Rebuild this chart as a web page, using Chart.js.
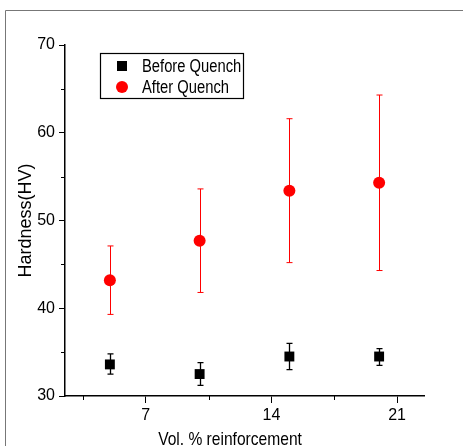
<!DOCTYPE html>
<html lang="en">
<head>
  <meta charset="UTF-8" />
  <title>Hardness vs reinforcement</title>
  <script src="https://cdn.jsdelivr.net/npm/chart.js"></script>
  <style>
    body { margin: 0; background: #fff; }
    .container { width: 463px; height: 446px; position: relative; }
  </style>
</head>
<body>
  <div class="container">
    <canvas id="chart"></canvas>
  </div>

  <script>
    // values
    const volPct = [5, 10, 15, 20];
    const beforeQuench = [33.6, 32.5, 34.5, 34.5];
    const beforeErrHi = [34.8, 33.8, 36.0, 35.4];
    const beforeErrLo = [32.5, 31.2, 33.0, 33.5];
    const afterQuench = [43.2, 47.7, 53.4, 54.3];
    const afterErrHi = [47.1, 53.6, 61.6, 64.3];
    const afterErrLo = [39.3, 41.8, 45.2, 44.3];

    const xTicks = [7, 14, 21];
    const xMinorTicks = [3.5, 10.5, 17.5];
    const yTicks = [30, 40, 50, 60, 70];
    const yMinorTicks = [35, 45, 55, 65];

    const FONT = "'Liberation Sans', Arial, sans-serif";
    const SQUEEZE = 0.82; // the original text is horizontally condensed

    const toPoints = ys => volPct.map((x, i) => ({ x, y: ys[i] }));

    // condensed text helper
    function narrowText(ctx, text, x, y, size, align) {
      ctx.save();
      ctx.font = size + 'px ' + FONT;
      ctx.textAlign = align;
      ctx.translate(x, y);
      ctx.scale(SQUEEZE, 1);
      ctx.fillText(text, 0, 0);
      ctx.restore();
    }

    // outer frame like the figure border
    const framePlugin = {
      id: 'frame',
      beforeDraw(chart) {
        const ctx = chart.ctx;
        ctx.save();
        ctx.strokeStyle = '#777';
        ctx.lineWidth = 1;
        ctx.beginPath();
        ctx.moveTo(5.5, chart.height);
        ctx.lineTo(5.5, 10.5);
        ctx.lineTo(chart.width, 10.5);
        ctx.stroke();
        ctx.restore();
      }
    };

    // vertical error bars, drawn under the markers
    const errorBarPlugin = {
      id: 'errorBars',
      beforeDatasetsDraw(chart) {
        const ctx = chart.ctx;
        const xs = chart.scales.x, ys = chart.scales.y;
        chart.data.datasets.forEach(ds => {
          ctx.save();
          ctx.strokeStyle = ds.errColor;
          ctx.lineWidth = ds.errWidth;
          volPct.forEach((v, i) => {
            const px = Math.round(xs.getPixelForValue(v)) + 0.5;
            const top = ys.getPixelForValue(ds.errHi[i]);
            const bot = ys.getPixelForValue(ds.errLo[i]);
            ctx.beginPath();
            ctx.moveTo(px, top); ctx.lineTo(px, bot);
            ctx.moveTo(px - 3, top); ctx.lineTo(px + 3, top);
            ctx.moveTo(px - 3, bot); ctx.lineTo(px + 3, bot);
            ctx.stroke();
          });
          ctx.restore();
        });
      }
    };

    // short minor ticks + boxed legend + x title
    const extrasPlugin = {
      id: 'extras',
      afterDraw(chart) {
        const ctx = chart.ctx;
        const xs = chart.scales.x, ys = chart.scales.y;
        const area = chart.chartArea;
        ctx.save();
        ctx.strokeStyle = '#000';
        ctx.lineWidth = 1;
        ctx.beginPath();
        xMinorTicks.forEach(v => {
          const px = Math.round(xs.getPixelForValue(v)) + 0.5;
          ctx.moveTo(px, area.bottom); ctx.lineTo(px, area.bottom + 4);
        });
        yMinorTicks.forEach(v => {
          const py = Math.round(ys.getPixelForValue(v)) + 0.5;
          ctx.moveTo(area.left, py); ctx.lineTo(area.left - 4, py);
        });
        ctx.stroke();

        // legend box
        ctx.lineWidth = 1.2;
        ctx.strokeRect(100.5, 53.5, 143, 45);
        const rows = [66, 87];
        chart.data.datasets.forEach((ds, i) => {
          const y = rows[i];
          ctx.fillStyle = ds.backgroundColor;
          if (ds.pointStyle === 'rect') {
            ctx.fillRect(117, y - 5, 10, 10);
          } else {
            ctx.beginPath();
            ctx.arc(122, y, 6, 0, Math.PI * 2);
            ctx.fill();
          }
          ctx.fillStyle = '#000';
          ctx.textBaseline = 'middle';
          narrowText(ctx, ds.label, 142, y + 1, 18, 'left');
        });

        // x axis title
        ctx.fillStyle = '#000';
        ctx.textBaseline = 'alphabetic';
        narrowText(ctx, 'Vol. % reinforcement', 230, 445, 19, 'center');
        ctx.restore();
      }
    };

    const ctx = document.getElementById('chart').getContext('2d');
    new Chart(ctx, {
      type: 'scatter',
      data: {
        datasets: [
          {
            label: 'Before Quench',
            data: toPoints(beforeQuench),
            errHi: beforeErrHi,
            errLo: beforeErrLo,
            errColor: '#000',
            errWidth: 1.3,
            pointStyle: 'rect',
            pointRadius: 7,
            backgroundColor: '#000',
            borderColor: '#000',
            borderWidth: 0
          },
          {
            label: 'After Quench',
            data: toPoints(afterQuench),
            errHi: afterErrHi,
            errLo: afterErrLo,
            errColor: '#ff0000',
            errWidth: 1,
            pointStyle: 'circle',
            pointRadius: 6,
            backgroundColor: '#ff0000',
            borderColor: '#ff0000',
            borderWidth: 0
          }
        ]
      },
      options: {
        responsive: true,
        maintainAspectRatio: false,
        animation: false,
        layout: { padding: { top: 45, right: 39, bottom: 0, left: 0 } },
        plugins: {
          legend: { display: false },
          tooltip: { enabled: false }
        },
        scales: {
          x: {
            type: 'linear',
            min: 2.5,
            max: 22.5,
            afterBuildTicks: s => { s.ticks = xTicks.map(v => ({ value: v })); },
            afterFit: s => { s.height = 50; },
            grid: { drawOnChartArea: false, tickLength: 7, color: '#000', tickWidth: 1 },
            border: { color: '#000', width: 1.5 },
            ticks: { color: '#000', padding: 3, font: { family: FONT, size: 16 } },
            title: { display: false }
          },
          y: {
            min: 30,
            max: 70,
            afterBuildTicks: s => { s.ticks = yTicks.map(v => ({ value: v })); },
            afterFit: s => { s.width = 65; },
            grid: { drawOnChartArea: false, tickLength: 6, color: '#000', tickWidth: 1 },
            border: { color: '#000', width: 1.5 },
            ticks: { color: '#000', padding: 4, font: { family: FONT, size: 16 } },
            title: {
              display: true,
              text: 'Hardness(HV)',
              color: '#000',
              font: { family: FONT, size: 18 },
              padding: { top: 15, bottom: 0 }
            }
          }
        }
      },
      plugins: [framePlugin, errorBarPlugin, extrasPlugin]
    });
  </script>
</body>
</html>
